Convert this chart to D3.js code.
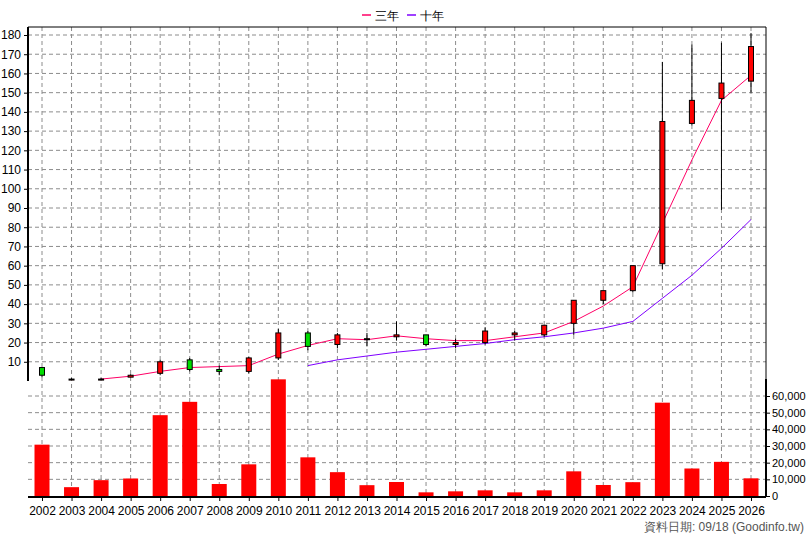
<!DOCTYPE html>
<html><head><meta charset="utf-8">
<script src="https://cdn.jsdelivr.net/npm/d3@7"></script>
<style>body{margin:0;background:#fff}text{font-family:Arial,"Liberation Sans",sans-serif;font-size:12px}</style>
</head><body><div id="chart"></div>
<script>
var years = d3.range(2002, 2027);
// open, close, high, low
var opens  = [7,1,1,2,4,11,6,5,12,25,19,22,23,24,19,20,24,24,30,42,47,61,134,147,156];
var closes = [3,1,1,3,10,6,5,12,25,18,24,22,24,19,20,26,25,29,42,47,60,135,146,155,174];
var highs  = [7,1.5,1.5,3.5,11,12,8,12.5,27,26,25,25,31,24,22,28,26,29,42,47,60,166,175,176,181];
var lows   = [2,1,1,2,3,5,3,4,11,16,17,18,21,18,17,19,21,23,24,40,46,58,133,89,150];
var ma3  = [null,null,1,2.5,5,7,7.5,8,14,18.5,22,21.5,23.5,22,21,21,23,25,31,39,49,82,115,146,159];
var ma10 = [null,null,null,null,null,null,null,null,null,8,11,13,15,16.5,18,19.5,21.5,23,25,27.5,31,43,55,69,84];
var volume = [30800,5300,9500,10500,48500,56500,7200,19000,70000,23200,14300,6500,8400,2200,2800,3400,2200,3400,14800,6600,8300,56000,16500,20500,10600];
var priceTicks = d3.range(10, 181, 10);
var volTicks = d3.range(0, 60001, 10000);

var W = 808, H = 540, L = 28, R = 766, T = 27;
var svg = d3.select('#chart').append('svg').attr('width', W).attr('height', H);

var x = d3.scaleLinear().domain([2002, 2026]).range([42, 751]);
var y = d3.scaleLinear().domain([0, 180]).range([381, 35]);
var yv = d3.scaleLinear().domain([0, 60000]).range([496, 396]);

var grid = svg.append('g').attr('stroke', '#8c8c8c').attr('stroke-dasharray', '4,3');
years.forEach(function(yr){
  grid.append('line').attr('x1', x(yr)).attr('x2', x(yr)).attr('y1', T).attr('y2', 496);
});
priceTicks.forEach(function(t){
  grid.append('line').attr('x1', L).attr('x2', R).attr('y1', y(t)).attr('y2', y(t));
});
volTicks.slice(1).forEach(function(t){
  grid.append('line').attr('x1', L).attr('x2', R).attr('y1', yv(t)).attr('y2', yv(t));
});

// volume bars
svg.selectAll('.vol').data(volume).enter().append('rect')
  .attr('x', function(d,i){ return x(years[i]) - 7.5; })
  .attr('width', 15)
  .attr('y', function(d){ return yv(d); })
  .attr('height', function(d){ return yv(0) - yv(d); })
  .attr('fill', '#ff0000');

// moving averages
var line = d3.line().defined(function(d){ return d[1] != null; })
  .x(function(d){ return x(d[0]); }).y(function(d){ return y(d[1]); });
svg.append('path').datum(years.map(function(yr,i){ return [yr, ma3[i]]; }))
  .attr('d', line).attr('fill', 'none').attr('stroke', '#ff0066').attr('stroke-width', 1);
svg.append('path').datum(years.map(function(yr,i){ return [yr, ma10[i]]; }))
  .attr('d', line).attr('fill', 'none').attr('stroke', '#7f00ff').attr('stroke-width', 1);

// candles
var candles = svg.selectAll('.candle').data(years).enter().append('g');
candles.append('line')
  .attr('x1', function(d){ return x(d); }).attr('x2', function(d){ return x(d); })
  .attr('y1', function(d,i){ return y(highs[i]); })
  .attr('y2', function(d,i){ return y(lows[i]); })
  .attr('stroke', '#000');
candles.append('rect')
  .attr('x', function(d){ return x(d) - 2.5; }).attr('width', 5)
  .attr('y', function(d,i){ return y(Math.max(opens[i], closes[i])); })
  .attr('height', function(d,i){ return Math.max(1, Math.abs(y(opens[i]) - y(closes[i]))); })
  .attr('fill', function(d,i){ return closes[i] >= opens[i] ? '#ff0000' : '#00dd00'; })
  .attr('stroke', '#000');

// axes
var yAxis = d3.axisLeft(y).tickValues(priceTicks).tickSize(4);
svg.append('g').attr('transform', 'translate(' + L + ',0)').call(yAxis)
  .call(function(g){ g.select('.domain').remove(); g.selectAll('text').attr('fill', '#000').style('font-size','12px'); });
svg.append('line').attr('x1', L).attr('x2', L).attr('y1', T).attr('y2', 381).attr('stroke', '#000').attr('stroke-width', 2);
svg.append('line').attr('x1', L).attr('x2', R).attr('y1', T).attr('y2', T).attr('stroke', '#000');
svg.append('line').attr('x1', R).attr('x2', R).attr('y1', T).attr('y2', 381).attr('stroke', '#000');

var vAxis = d3.axisRight(yv).tickValues(volTicks).tickSize(4).tickPadding(2).tickFormat(d3.format(','));
svg.append('g').attr('transform', 'translate(' + R + ',0)').call(vAxis)
  .call(function(g){ g.select('.domain').remove(); g.selectAll('text').attr('fill', '#000').style('font-size','11px'); });
svg.append('line').attr('x1', R).attr('x2', R).attr('y1', 379).attr('y2', 497).attr('stroke', '#000').attr('stroke-width', 2);

var xAxis = d3.axisBottom(x).tickValues(years).tickFormat(d3.format('d')).tickSize(4);
svg.append('g').attr('transform', 'translate(0,497)').call(xAxis)
  .call(function(g){ g.select('.domain').remove(); g.selectAll('text').attr('fill', '#000').attr('dy','0.9em').style('font-size','12px'); });
svg.append('line').attr('x1', L).attr('x2', R).attr('y1', 497).attr('y2', 497).attr('stroke', '#000').attr('stroke-width', 2);

// legend
var lg = svg.append('g').attr('transform', 'translate(362,15)');
lg.append('line').attr('x1', 0).attr('x2', 9).attr('stroke', '#ff0066').attr('stroke-width', 1.5);
lg.append('text').attr('x', 13).attr('y', 4.5).text('三年');
lg.append('line').attr('x1', 45).attr('x2', 54).attr('stroke', '#7f00ff').attr('stroke-width', 1.5);
lg.append('text').attr('x', 58).attr('y', 4.5).text('十年');

svg.append('text').attr('x', 804).attr('y', 531).attr('text-anchor', 'end').attr('fill', '#555')
  .text('資料日期: 09/18  (Goodinfo.tw)');
</script></body></html>
